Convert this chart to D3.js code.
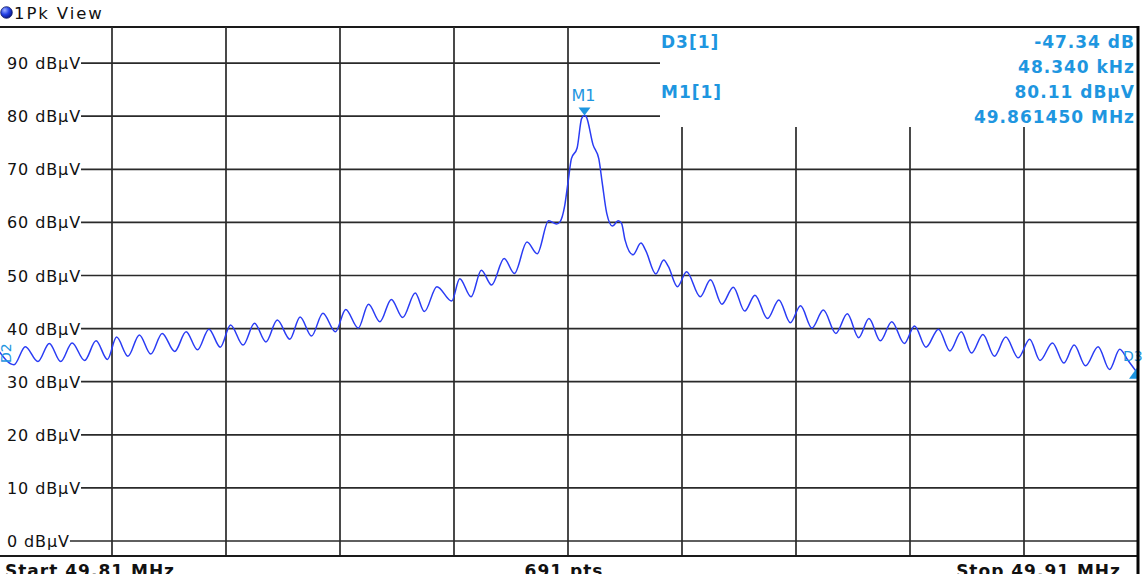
<!DOCTYPE html>
<html><head><meta charset="utf-8">
<script src="https://cdn.jsdelivr.net/npm/d3@7"></script>
<style>
html,body{margin:0;padding:0;background:#fff;overflow:hidden}
svg{display:block}
</style></head><body>
<svg id="chart" width="1144" height="574"></svg>
<script>
// ---------- data ----------
const viewTitle = "1Pk View";
const yTickValues = [0, 10, 20, 30, 40, 50, 60, 70, 80, 90];
const yUnit = "dBµV";
const xDivisionsKHz = [10, 20, 30, 40, 50, 60, 70, 80, 90];
const spanKHz = [0, 100];
const footerLabels = ["Start 49.81 MHz", "691 pts", "Stop 49.91 MHz"];

// trace: frequency offset from start (kHz) and level (dBµV)
const traceOffsetKHz = [0,1.4,2.4,3.5,4.5,5.5,6.5,7.6,8.6,9.6,10.4,11.4,12.4,13.4,14.4,15.5,16.5,17.5,18.5,19.5,
  20.4,21.5,22.5,23.5,24.5,25.6,26.5,27.5,28.5,29.6,30.5,31.6,32.5,33.5,34.5,35.5,36.6,37.4,38.5,39.8,
  40.5,41.5,42.4,43.3,44.4,45.3,46.4,47.3,48.3,49.0,49.3,49.7,50.0,50.3,50.8,51.2,51.45,51.6,52.2,52.7,
  53.0,53.4,53.9,54.4,54.7,55.0,55.7,56.4,56.8,57.7,58.4,58.8,59.6,60.4,61.6,62.5,63.5,64.5,65.5,66.4,
  67.5,68.5,69.5,70.4,71.4,72.4,73.5,74.5,75.5,76.4,77.4,78.4,79.5,80.4,81.4,82.5,83.5,84.5,85.4,86.4,
  87.4,88.4,89.5,90.5,91.4,92.5,93.5,94.4,95.4,96.5,97.5,98.4,99.1,100];
const traceLevel = [36.0,33.2,36.6,33.8,37.2,33.8,37.3,34.0,37.7,34.2,38.4,34.8,38.8,35.2,39.1,35.7,39.4,36.0,39.9,36.5,
  40.7,36.9,41.0,37.5,41.6,38.0,42.2,38.6,42.9,39.4,43.6,40.1,44.6,41.3,45.5,42.1,46.7,43.2,47.9,45.2,
  49.4,46.0,51.0,48.2,53.2,50.4,56.3,54.1,60.3,59.7,60.1,63.0,67.5,72.0,74.0,79.6,80.11,79.9,74.6,72.0,
  67.5,61.7,59.3,60.3,59.8,56.7,53.9,56.1,54.8,50.3,52.9,51.7,47.9,50.7,46.0,49.2,44.6,47.8,43.3,46.3,
  41.9,45.4,41.1,44.3,40.1,43.5,39.1,42.8,38.3,41.9,37.7,41.3,37.2,40.5,36.5,39.9,35.8,39.4,35.4,38.9,
  34.8,38.4,34.5,38.0,34.0,37.3,33.5,36.9,33.0,36.6,32.3,36.1,34.1,31.5];

// marker table
const markerNames = ["D3[1]", "M1[1]"];
const markerLine1 = ["-47.34 dB", "80.11 dBµV"];
const markerLine2 = ["48.340 kHz", "49.861450 MHz"];
const m1OffsetKHz = 51.45;
const m1Level = 80.11;
const deltaLabels = ["D2", "D3"];
const d3Level = 31.5;

// ---------- layout ----------
const W = 1144, H = 574;
const topY = 27, bottomY = 556, rightX = 1138;
const boxLeft = 660, boxBottom = 127;
const markerBlue = "#1e96e0";
const gridColor = "#2a2a2a";

const x = d3.scaleLinear().domain(spanKHz).range([-2, 1138]);
const y = d3.scaleLinear().domain([0, 100]).range([541, 10]);

const svg = d3.select("#chart");
const defs = svg.append("defs");
const grad = defs.append("radialGradient").attr("id", "dot").attr("cx", "35%").attr("cy", "30%").attr("r", "70%");
grad.append("stop").attr("offset", "0%").attr("stop-color", "#9db0ff");
grad.append("stop").attr("offset", "55%").attr("stop-color", "#2240e6");
grad.append("stop").attr("offset", "100%").attr("stop-color", "#0b1a8c");
defs.append("clipPath").attr("id", "plotClip").append("rect")
  .attr("x", 0).attr("y", topY).attr("width", rightX - 1).attr("height", bottomY - topY);

// header
svg.append("circle").attr("cx", 6.5).attr("cy", 12.5).attr("r", 5.8)
  .attr("fill", "url(#dot)").attr("stroke", "#0a145e").attr("stroke-width", 0.8);
svg.append("text").attr("x", 14).attr("y", 18.5).text(viewTitle)
  .attr("font-family", "DejaVu Sans").attr("font-size", 16.5).attr("letter-spacing", 1.9).attr("fill", "#111");

// top frame
svg.append("line").attr("x1", 0).attr("x2", rightX).attr("y1", topY).attr("y2", topY)
  .attr("stroke", "#1a1a1a").attr("stroke-width", 2);

// vertical grid
svg.append("g").selectAll("line").data(xDivisionsKHz).join("line")
  .attr("x1", d => x(d)).attr("x2", d => x(d))
  .attr("y1", d => x(d) > boxLeft ? boxBottom : topY).attr("y2", bottomY)
  .attr("stroke", gridColor).attr("stroke-width", 1.7);

// horizontal grid with labels
const yg = svg.append("g");
yTickValues.forEach(v => {
  const t = yg.append("text").attr("x", 7).attr("y", y(v) + 6)
    .attr("font-family", "DejaVu Sans").attr("font-size", 16).attr("letter-spacing", 0.9)
    .attr("fill", "#111").text(v + " " + yUnit);
  const len = t.node().getComputedTextLength();
  yg.append("line").attr("x1", 7 + len).attr("x2", y(v) < boxBottom ? boxLeft : rightX)
    .attr("y1", y(v)).attr("y2", y(v))
    .attr("stroke", gridColor).attr("stroke-width", 1.7);
});

// bottom frame
svg.append("line").attr("x1", 0).attr("x2", rightX).attr("y1", bottomY).attr("y2", bottomY)
  .attr("stroke", "#1a1a1a").attr("stroke-width", 1.8);

// trace
const traceData = traceOffsetKHz.map((k, i) => [k, traceLevel[i]]);
svg.append("path").datum(traceData)
  .attr("clip-path", "url(#plotClip)")
  .attr("d", d3.line().x(d => x(d[0])).y(d => y(d[1])).curve(d3.curveMonotoneX))
  .attr("fill", "none").attr("stroke", "#2a3cf4").attr("stroke-width", 1.5);

// M1 marker
const mx = x(m1OffsetKHz), my = y(m1Level);
svg.append("path").attr("d", `M${mx - 6},${my - 8}L${mx + 6},${my - 8}L${mx},${my}Z`).attr("fill", markerBlue);
svg.append("text").attr("x", mx - 1).attr("y", my - 14.5).attr("text-anchor", "middle")
  .attr("font-family", "DejaVu Sans").attr("font-size", 16).attr("fill", markerBlue).text("M1");

// delta markers at the edges
svg.append("text").attr("transform", "translate(11,363) rotate(-90)")
  .attr("font-family", "DejaVu Sans").attr("font-size", 14).attr("fill", markerBlue).text(deltaLabels[0]);
svg.append("text").attr("x", 1123).attr("y", y(d3Level) - 13)
  .attr("font-family", "DejaVu Sans").attr("font-size", 14).attr("fill", markerBlue).text(deltaLabels[1]);
const ex = x(spanKHz[1]) - 1, ey = y(d3Level);
svg.append("path").attr("d", `M${ex},${ey - 6}L${ex},${ey + 5}L${ex - 8},${ey + 5}Z`).attr("fill", markerBlue);

// marker table
const info = svg.append("g").attr("font-family", "DejaVu Sans").attr("font-weight", "bold")
  .attr("font-size", 17).attr("letter-spacing", 1).attr("fill", markerBlue);
markerNames.forEach((n, i) => {
  const base = 48 + i * 50;
  info.append("text").attr("x", 661).attr("y", base).text(n);
  info.append("text").attr("x", 1135).attr("y", base).attr("text-anchor", "end").text(markerLine1[i]);
  info.append("text").attr("x", 1135).attr("y", base + 25).attr("text-anchor", "end").text(markerLine2[i]);
});

// right thick border
svg.append("rect").attr("x", 1136.5).attr("y", topY - 1).attr("width", 3).attr("height", H - topY + 1).attr("fill", "#050505");

// footer (cut by the bottom edge, as in the original screenshot)
const foot = svg.append("g").attr("font-family", "DejaVu Sans").attr("font-weight", "bold")
  .attr("font-size", 17).attr("letter-spacing", 1).attr("fill", "#111");
foot.append("text").attr("x", 5).attr("y", 577).text(footerLabels[0]);
foot.append("text").attr("x", x(50) - 4).attr("y", 577).attr("text-anchor", "middle").text(footerLabels[1]);
foot.append("text").attr("x", 1121).attr("y", 577).attr("text-anchor", "end").text(footerLabels[2]);
</script>
</body></html>
